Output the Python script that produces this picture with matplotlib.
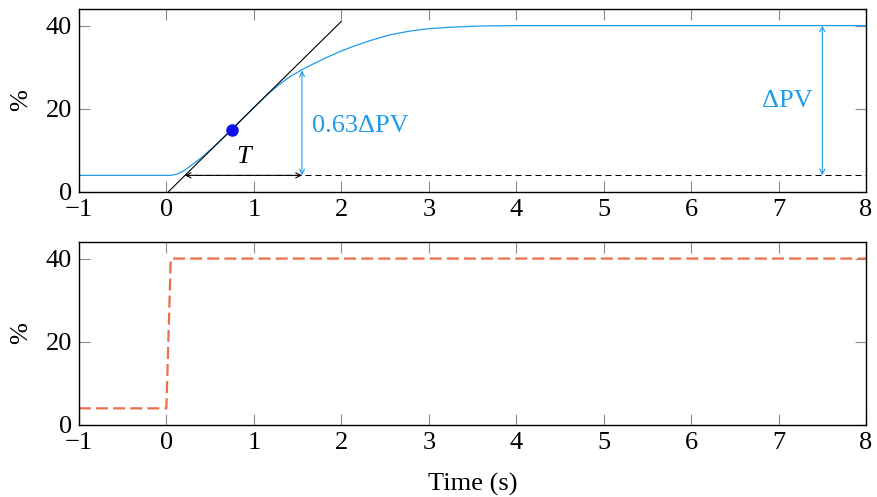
import numpy as np
import matplotlib
matplotlib.use('Agg')
import matplotlib.pyplot as plt

plt.rcParams['font.family'] = ['Liberation Serif', 'DejaVu Serif']
plt.rcParams['axes.unicode_minus'] = True

# process variable response
pv_t = [-1, 0.05, 0.12, 0.2, 0.31, 0.42, 0.55, 0.75, 0.9, 1.05, 1.18, 1.30,
        1.42, 1.55, 1.70, 1.85, 2.0, 2.15, 2.33, 2.56, 2.79, 3.02, 3.25, 3.6,
        4.0, 5.0, 6.0, 8.0]
pv_v = [4, 4, 4.3, 5.1, 6.8, 8.6, 11.0, 15.0, 18.2, 21.3, 23.9, 26.0,
        27.8, 29.4, 31.0, 32.5, 33.9, 35.1, 36.4, 37.8, 38.7, 39.3, 39.6, 39.9,
        40.0, 40.0, 40.0, 40.0]

# tangent through the inflection point
tan_t = [0.02, 2.0]
tan_v = [0.0, 41.0]
infl_t, infl_v = 0.75, 15.0

pv_start, pv_end = 4.0, 40.0
t_start_tangent = 0.21
t_63 = 1.55
v_63 = 29.2
t_dpv = 7.5

# controller output step
mv_t = [-1, 0.0, 0.05, 8]
mv_v = [4, 4, 40, 40]

xticks = [-1, 0, 1, 2, 3, 4, 5, 6, 7, 8]
yticks = [0, 20, 40]

BLUE = '#1e9be9'
ORANGE = '#e8704a'
TICK = '#8c8c8c'
FS = 19

fig = plt.figure(figsize=(8.77, 4.97), dpi=100)
ax1 = fig.add_axes([0.090, 0.6137, 0.8975, 0.3683])
ax2 = fig.add_axes([0.090, 0.1449, 0.8975, 0.3683])

for ax in (ax1, ax2):
    ax.set_xlim(-1, 8)
    ax.set_ylim(0, 44)
    ax.set_xticks(xticks)
    ax.set_yticks(yticks)
    ax.tick_params(direction='in', length=8, width=0.8, color=TICK,
                   top=True, right=True, labelsize=FS, pad=5)
    for s in ax.spines.values():
        s.set_linewidth(1.0)
    ax.set_ylabel('%', fontsize=FS, labelpad=10)

# top panel
ax1.plot(pv_t, pv_v, color=BLUE, lw=0.9)
ax1.plot(tan_t, tan_v, color='black', lw=0.8)
ax1.plot([t_start_tangent, 8], [pv_start, pv_start], color='black', lw=0.75,
         linestyle=(0, (5.8, 3.8)))
ax1.plot(infl_t, infl_v, 'o', color='#1010e8', ms=8, zorder=5)

arr = dict(arrowstyle='<->', lw=0.8, shrinkA=0, shrinkB=0,
           mutation_scale=9)
ax1.annotate('', xy=(t_start_tangent, pv_start), xytext=(t_63, pv_start),
             arrowprops=dict(arr, color='black'))
ax1.annotate('', xy=(t_63, pv_start), xytext=(t_63, v_63),
             arrowprops=dict(arr, color=BLUE))
ax1.annotate('', xy=(t_dpv, pv_start), xytext=(t_dpv, pv_end),
             arrowprops=dict(arr, color=BLUE))

ax1.text(0.88, 8.3, 'T', style='italic', fontsize=FS, ha='center', va='center')
ax1.text(1.66, 15.8, '0.63ΔPV', color=BLUE, fontsize=FS, ha='left', va='center')
ax1.text(7.39, 21.9, 'ΔPV', color=BLUE, fontsize=FS, ha='right', va='center')

# bottom panel
ax2.plot(mv_t, mv_v, color=ORANGE, lw=1.6, linestyle=(0, (5.4, 2.3)))
ax2.set_xlabel('Time (s)', fontsize=FS, labelpad=14)

fig.savefig('out.png', dpi=100)
